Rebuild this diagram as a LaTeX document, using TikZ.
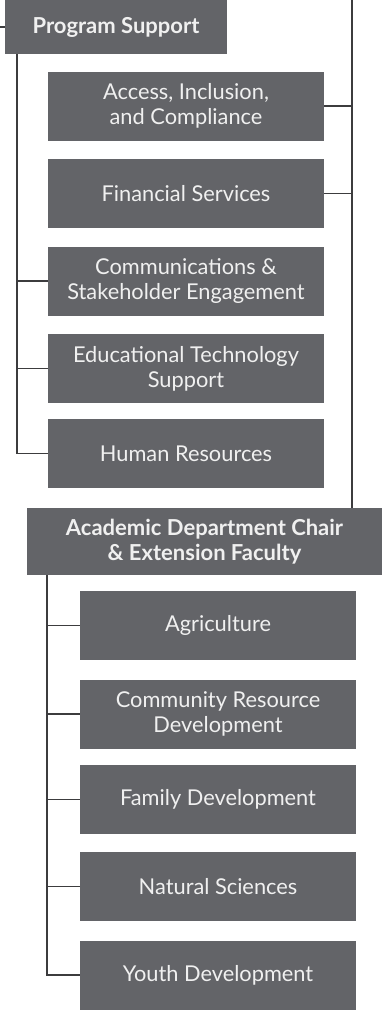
\documentclass[tikz,border=0pt]{standalone}
\usepackage{fontspec}
\setmainfont{Lato}
\usepackage{tikz}
\usetikzlibrary{calc}
\definecolor{boxgray}{RGB}{99,100,104}
\definecolor{linegray}{RGB}{60,60,62}
\tikzset{unitbox/.style={fill=boxgray, text=white!94!black, align=center, inner sep=0pt,
    minimum width=276pt, minimum height=69pt, font=\fontsize{21.8}{25}\selectfont}}
\tikzset{headbox/.style={unitbox, font=\bfseries\fontsize{22}{25}\selectfont}}
\tikzset{link/.style={draw=linegray, line width=1.5pt}}

\begin{document}
\begin{tikzpicture}[x=1pt,y=-1pt]
    \useasboundingbox (0,0) rectangle (383,1010);
    \node[headbox, minimum width=222pt, minimum height=54pt] (prog) at (116,27) {Program Support};
    \foreach \y/\lab/\tx in {
      106/acc/{Access, Inclusion,\\ and Compliance},
      193.5/fin/{Financial Services},
      281/com/{Communications \&\\ Stakeholder Engagement},
      368.5/edu/{Educational Technology\\ Support},
      453.5/hr/{Human Resources}%
    } {
      \node[unitbox] (\lab) at (186,\y) {\tx};
    }
    \node[headbox, minimum width=355pt, minimum height=67pt] (acad) at (204.5,541.5)
      {Academic Department Chair\\ \& Extension Faculty};
    \foreach \y/\lab/\tx in {
      625.5/agr/{Agriculture},
      714/crd/{Community Resource\\ Development},
      799.5/fam/{Family Development},
      886.5/nat/{Natural Sciences},
      975/yth/{Youth Development}%
    } {
      \node[unitbox] (\lab) at (218,\y) {\tx};
    }
    % connectors
    \coordinate (stub) at (0,27);
    \coordinate (top) at (352,0);
    \coordinate (spine) at ([xshift=12pt]prog.south west);
    \coordinate (spinetwo) at ([xshift=20pt]acad.south west);
    \draw[link] (stub) -- (prog.west);
    \draw[link] (top) -- (top |- acad.north);
    \foreach \lab in {acc,fin}{
      \draw[link] (\lab.east) -- (\lab.east -| top);
    }
    \draw[link] (spine) |- (hr.west);
    \foreach \lab in {com,edu}{
      \draw[link] (\lab.west) -- (\lab.west -| spine);
    }
    \draw[link] (spinetwo) |- (yth.west);
    \foreach \lab in {agr,crd,fam,nat}{
      \draw[link] (\lab.west) -- (\lab.west -| spinetwo);
    }
\end{tikzpicture}
\end{document}
